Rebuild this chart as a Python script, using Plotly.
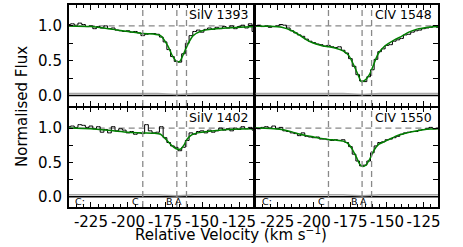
import plotly.graph_objects as go

# ---------------- data ----------------
vel_bins = [-240 + 2.5 * i for i in range(51)]  # bin centres, km/s

siiv1393_flux = [1.02, 1.03, 1.01, 1.04, 1.02, 0.99, 1.00, 0.96, 0.99, 0.97,
                 1.00, 0.96, 0.97, 0.94, 0.93, 0.92, 0.93, 0.91, 0.92, 0.90,
                 0.86, 0.88, 0.89, 0.89, 0.88, 0.84, 0.77, 0.66, 0.56, 0.49,
                 0.48, 0.60, 0.75, 0.86, 0.92, 0.94, 0.91, 0.95, 0.97, 0.95,
                 0.98, 0.96, 0.99, 0.97, 1.00, 0.96, 0.99, 1.01, 0.97, 1.03, 0.92]
civ1548_flux = [1.00, 1.01, 0.99, 1.00, 0.98, 0.99, 1.00, 1.02, 1.01, 0.97,
                0.93, 0.90, 0.87, 0.85, 0.81, 0.78, 0.76, 0.74, 0.73, 0.71,
                0.72, 0.70, 0.69, 0.70, 0.65, 0.61, 0.53, 0.42, 0.30, 0.21,
                0.20, 0.27, 0.37, 0.52, 0.63, 0.67, 0.72, 0.73, 0.78, 0.80,
                0.82, 0.87, 0.88, 0.91, 0.93, 0.94, 0.96, 0.97, 0.98, 1.00, 0.98]
siiv1402_flux = [1.02, 1.03, 1.01, 1.05, 1.04, 1.01, 1.03, 0.99, 1.02, 0.94,
                 0.98, 0.93, 1.02, 0.96, 0.99, 0.97, 0.93, 0.95, 0.91, 0.93,
                 0.92, 1.05, 0.96, 0.93, 0.94, 1.02, 0.86, 0.79, 0.74, 0.72,
                 0.67, 0.72, 0.82, 0.93, 0.91, 0.95, 0.96, 0.93, 0.97, 0.94,
                 0.96, 1.00, 0.97, 0.99, 0.96, 1.00, 0.98, 1.02, 0.99, 1.01, 0.97]
civ1550_flux = [1.00, 0.99, 1.01, 1.02, 1.00, 1.03, 0.99, 1.01, 0.96, 0.95,
                0.93, 0.92, 0.89, 0.93, 0.88, 0.87, 0.86, 0.87, 0.84, 0.84,
                0.83, 0.82, 0.83, 0.82, 0.83, 0.79, 0.73, 0.62, 0.52, 0.45,
                0.46, 0.52, 0.64, 0.74, 0.79, 0.80, 0.83, 0.84, 0.86, 0.88,
                0.91, 0.93, 0.94, 0.95, 0.95, 0.97, 0.98, 0.99, 1.01, 0.99, 1.00]

siiv1393_model_v = [-240, -225, -210, -200, -190, -183, -178, -173, -170, -167,
                    -165, -162, -159, -156, -150, -140, -130, -115]
siiv1393_model = [1.00, 0.99, 0.95, 0.92, 0.89, 0.885, 0.86, 0.71, 0.57, 0.49,
                  0.49, 0.62, 0.76, 0.86, 0.93, 0.96, 0.975, 0.99]
civ1548_model_v = [-240, -230, -222, -215, -210, -205, -200, -195, -190, -185,
                   -180, -176, -173, -170, -167.5, -165, -162, -159, -156, -152,
                   -148, -144, -140, -135, -130, -125, -120, -115]
civ1548_model = [1.00, 0.995, 0.98, 0.93, 0.87, 0.80, 0.75, 0.72, 0.70, 0.68,
                 0.64, 0.57, 0.45, 0.31, 0.20, 0.22, 0.30, 0.45, 0.60, 0.70,
                 0.76, 0.81, 0.85, 0.91, 0.95, 0.97, 0.985, 0.99]
siiv1402_model_v = [-240, -225, -210, -200, -190, -182, -178, -175, -172, -169,
                    -166.5, -164, -162, -160, -157, -153, -145, -135, -125, -115]
siiv1402_model = [1.00, 0.99, 0.96, 0.94, 0.93, 0.925, 0.91, 0.85, 0.78, 0.72,
                  0.69, 0.70, 0.76, 0.84, 0.90, 0.93, 0.955, 0.975, 0.985, 0.99]
civ1550_model_v = [-240, -230, -222, -215, -210, -205, -200, -195, -190, -185,
                   -180, -177, -174, -171, -168.5, -166.5, -164, -161.5, -159, -156,
                   -152, -148, -143, -138, -132, -125, -120, -115]
civ1550_model = [1.00, 0.995, 0.98, 0.945, 0.915, 0.89, 0.87, 0.85, 0.835, 0.825,
                 0.81, 0.78, 0.70, 0.58, 0.47, 0.44, 0.47, 0.56, 0.67, 0.76,
                 0.80, 0.84, 0.89, 0.92, 0.95, 0.975, 0.985, 0.99]

error_v = [-240, -180, -167, -155, -115]
error_flux = [0.03, 0.03, 0.015, 0.03, 0.03]

ion_names = ["SiIV 1393", "CIV 1548", "SiIV 1402", "CIV 1550"]
component_vel = [-190, -167, -160.5]
label_text = ["C:", "C", "B", "A"]
label_vel = [-227.5, -191, -168.5, -162.5]

x_ticks = [-225, -200, -175, -150, -125]
y_ticks = [0.0, 0.5, 1.0]
y_minor = [0.25, 0.75]

panels = [
    (siiv1393_flux, siiv1393_model_v, siiv1393_model),
    (civ1548_flux, civ1548_model_v, civ1548_model),
    (siiv1402_flux, siiv1402_model_v, siiv1402_model),
    (civ1550_flux, civ1550_model_v, civ1550_model),
]

# ---------------- layout geometry ----------------
W, H = 463, 247
LW = 1.5
xl, xm, xr = 69 / W, 255 / W, 440 / W
xm2 = (255 + LW) / W
yt, ym, yb = 1 - 5 / H, 1 - 106 / H, 1 - 207 / H
ym2 = 1 - (106 + LW) / H
xdoms = [[xl, xm], [xm2, xr], [xl, xm], [xm2, xr]]
ydoms = [[ym, yt], [ym, yt], [yb, ym2], [yb, ym2]]
XR = [-240, -115]
YR = [-0.15, 1.3]
FONT = "DejaVu Sans"

fig = go.Figure()
shapes = []
annotations = []

for i, (flux, mv, mf) in enumerate(panels):
    n = "" if i == 0 else str(i + 1)
    xa, ya = "x" + n, "y" + n
    # zero line & error spectrum
    fig.add_trace(go.Scatter(x=XR, y=[0, 0], mode="lines", xaxis=xa, yaxis=ya,
                             line=dict(color="black", width=1.5), showlegend=False, hoverinfo="skip"))
    fig.add_trace(go.Scatter(x=error_v, y=error_flux, mode="lines", xaxis=xa, yaxis=ya,
                             line=dict(color="#a8a8a8", width=1.5), showlegend=False, hoverinfo="skip"))
    # continuum dashed
    fig.add_trace(go.Scatter(x=XR, y=[1, 1], mode="lines", xaxis=xa, yaxis=ya,
                             line=dict(color="#888888", width=1.3, dash="6px,4px"),
                             showlegend=False, hoverinfo="skip"))
    # component lines
    for v in component_vel:
        shapes.append(dict(type="line", xref=xa, yref=ya + " domain", x0=v, x1=v, y0=0.0, y1=1.0,
                           line=dict(color="#888888", width=1.3, dash="6px,4px")))
    # data
    fig.add_trace(go.Scatter(x=vel_bins, y=flux, mode="lines", xaxis=xa, yaxis=ya,
                             line=dict(color="black", width=1, shape="hvh"), showlegend=False))
    # model
    fig.add_trace(go.Scatter(x=mv, y=mf, mode="lines", xaxis=xa, yaxis=ya,
                             line=dict(color="#008000", width=1.5, shape="spline", smoothing=0.6),
                             showlegend=False))
    annotations.append(dict(x=-117.5, y=1.16, xref=xa, yref=ya, text=ion_names[i],
                            showarrow=False, xanchor="right", yanchor="middle",
                            font=dict(family=FONT, size=12.5, color="black")))
    if i >= 2:
        for t, v in zip(label_text, label_vel):
            annotations.append(dict(x=v, y=-0.075, xref=xa, yref=ya, text=t, showarrow=False,
                                    xanchor="right", yanchor="middle",
                                    font=dict(family=FONT, size=9.5, color="black")))

    common = dict(showline=True, linecolor="black", linewidth=LW, mirror="allticks",
                  ticks="inside", tickcolor="black", tickwidth=1, showgrid=False, zeroline=False,
                  tickfont=dict(family=FONT, size=15, color="black"))
    fig.layout["xaxis" + n] = dict(domain=xdoms[i], range=XR, anchor=ya, tickmode="array",
                                   tickvals=x_ticks, ticktext=[str(t) for t in x_ticks], ticklen=5,
                                   showticklabels=(i >= 2), ticklabelstandoff=0,
                                   minor=dict(tickmode="linear", tick0=-240, dtick=5, ticklen=3,
                                              ticks="inside", tickcolor="black"),
                                   **common)
    fig.layout["yaxis" + n] = dict(domain=ydoms[i], range=YR, anchor=xa, tickmode="array",
                                   tickvals=y_ticks, ticktext=["%.1f" % t for t in y_ticks], ticklen=5,
                                   showticklabels=(i % 2 == 0), ticklabelstandoff=2,
                                   minor=dict(tickmode="array", tickvals=y_minor, ticklen=5,
                                              ticks="inside", tickcolor="black"),
                                   **common)

annotations.append(dict(x=22 / W, y=1 - 106 / H, xref="paper", yref="paper", text="Normalised Flux",
                        textangle=-90, showarrow=False, xanchor="center", yanchor="middle",
                        font=dict(family=FONT, size=15, color="black")))
annotations.append(dict(x=0.5, y=1 - 234 / H, xref="paper", yref="paper",
                        text="Relative Velocity (km s<sup>−1</sup>)",
                        showarrow=False, xanchor="center", yanchor="middle",
                        font=dict(family=FONT, size=15, color="black")))

fig.update_layout(width=W, height=H, margin=dict(l=0, r=0, t=0, b=0),
                  paper_bgcolor="white", plot_bgcolor="white",
                  shapes=shapes, annotations=annotations, showlegend=False)

fig.write_html("out.html", config={"displayModeBar": False},
               post_script="document.body.style.margin='0';document.body.style.overflow='hidden';")
